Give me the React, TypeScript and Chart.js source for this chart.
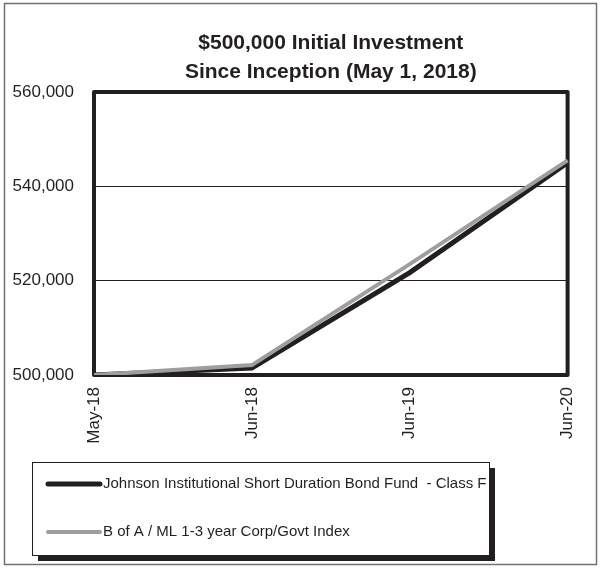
import React, { useEffect, useRef } from 'react';
import { Chart, registerables } from 'chart.js';

Chart.register(...registerables);

const TITLE_LINES = ['$500,000 Initial Investment', 'Since Inception (May 1, 2018)'];
const CATEGORIES = ['May-18', 'Jun-18', 'Jun-19', 'Jun-20'];
const FUND_LABEL = 'Johnson Institutional Short Duration Bond Fund  - Class F';
const FUND_VALUES = [500000, 501500, 521700, 545000];
const INDEX_LABEL = 'B of A / ML 1-3 year Corp/Govt Index';
const INDEX_VALUES = [500000, 502100, 523500, 545500];
const Y_MIN = 500000;
const Y_MAX = 560000;
const Y_STEP = 20000;

const FONT = "'Liberation Sans', Arial, sans-serif";
const INK = '#231f20';
const GRAY = '#9e9e9e';

const decor = {
  id: 'decor',
  beforeDraw(chart: any) {
    const ctx = chart.ctx;
    ctx.save();
    ctx.fillStyle = '#ffffff';
    ctx.fillRect(0, 0, chart.width, chart.height);
    ctx.strokeStyle = '#707070';
    ctx.lineWidth = 1.5;
    ctx.strokeRect(4.5, 3.5, 592, 561);
    ctx.restore();
  },
  beforeDatasetsDraw(chart: any) {
    const ctx = chart.ctx;
    const { left, top, right, bottom } = chart.chartArea;
    ctx.save();
    ctx.strokeStyle = INK;
    ctx.lineWidth = 4;
    ctx.lineJoin = 'round';
    ctx.strokeRect(left, top, right - left, bottom - top);
    ctx.restore();
  },
  afterDraw(chart: any) {
    const ctx = chart.ctx;
    const bx = 32, by = 462, bw = 457, bh = 93, sh = 6;
    ctx.save();
    ctx.fillStyle = INK;
    ctx.fillRect(bx + sh, by + sh, bw, bh);
    ctx.fillStyle = '#ffffff';
    ctx.fillRect(bx, by, bw, bh);
    ctx.strokeStyle = INK;
    ctx.lineWidth = 1;
    ctx.strokeRect(bx + 0.5, by + 0.5, bw, bh);
    const rows = [484, 532];
    chart.data.datasets.forEach((ds: any, i: number) => {
      const y = rows[i];
      ctx.beginPath();
      ctx.strokeStyle = ds.borderColor;
      ctx.lineWidth = ds.borderWidth;
      ctx.lineCap = 'round';
      ctx.moveTo(48, y);
      ctx.lineTo(100, y);
      ctx.stroke();
      ctx.fillStyle = INK;
      ctx.font = `15px ${FONT}`;
      ctx.textBaseline = 'middle';
      ctx.textAlign = 'left';
      ctx.fillText(ds.label, 103, y);
    });
    ctx.restore();
  },
};

export default function App() {
  const ref = useRef<HTMLCanvasElement | null>(null);
  useEffect(() => {
    if (!ref.current) return;
    const chart = new Chart(ref.current, {
      type: 'line',
      data: {
        labels: CATEGORIES,
        datasets: [
          {
            label: FUND_LABEL,
            data: FUND_VALUES,
            borderColor: INK,
            backgroundColor: INK,
            borderWidth: 5,
            pointRadius: 0,
            tension: 0,
            order: 1,
          },
          {
            label: INDEX_LABEL,
            data: INDEX_VALUES,
            borderColor: GRAY,
            backgroundColor: GRAY,
            borderWidth: 4,
            pointRadius: 0,
            tension: 0,
            order: 0,
          },
        ],
      },
      options: {
        responsive: false,
        animation: false,
        layout: { padding: { left: 0, right: 20, top: 0, bottom: 0 } },
        plugins: {
          legend: { display: false },
          tooltip: { enabled: false },
          title: {
            display: true,
            text: TITLE_LINES,
            fullSize: false,
            color: INK,
            font: { family: FONT, size: 21, weight: 'bold', lineHeight: 1.38 },
            padding: { top: 29, bottom: 5 },
          },
        },
        scales: {
          x: {
            type: 'category',
            offset: false,
            grid: { display: false, drawTicks: false },
            border: { display: false },
            ticks: {
              autoSkip: false,
              minRotation: 90,
              maxRotation: 90,
              padding: 12,
              color: INK,
              font: { family: FONT, size: 17 },
            },
            afterFit(scale: any) {
              scale.height = 568 - 375;
            },
          },
          y: {
            min: Y_MIN,
            max: Y_MAX,
            grid: {
              drawTicks: false,
              lineWidth: 1,
              color: (c: any) =>
                c.tick && (c.tick.value === Y_MIN || c.tick.value === Y_MAX) ? 'rgba(0,0,0,0)' : INK,
            },
            border: { display: false },
            ticks: {
              stepSize: Y_STEP,
              padding: 20,
              color: INK,
              font: { family: FONT, size: 17 },
              callback: (v: any) => Number(v).toLocaleString('en-US'),
            },
            afterFit(scale: any) {
              scale.width = 94;
            },
          },
        },
      },
      plugins: [decor],
    });
    return () => chart.destroy();
  }, []);
  return (
    <div style={{ position: 'absolute', left: 0, top: 0, width: 600, height: 568 }}>
      <canvas ref={ref} width={600} height={568} />
    </div>
  );
}
